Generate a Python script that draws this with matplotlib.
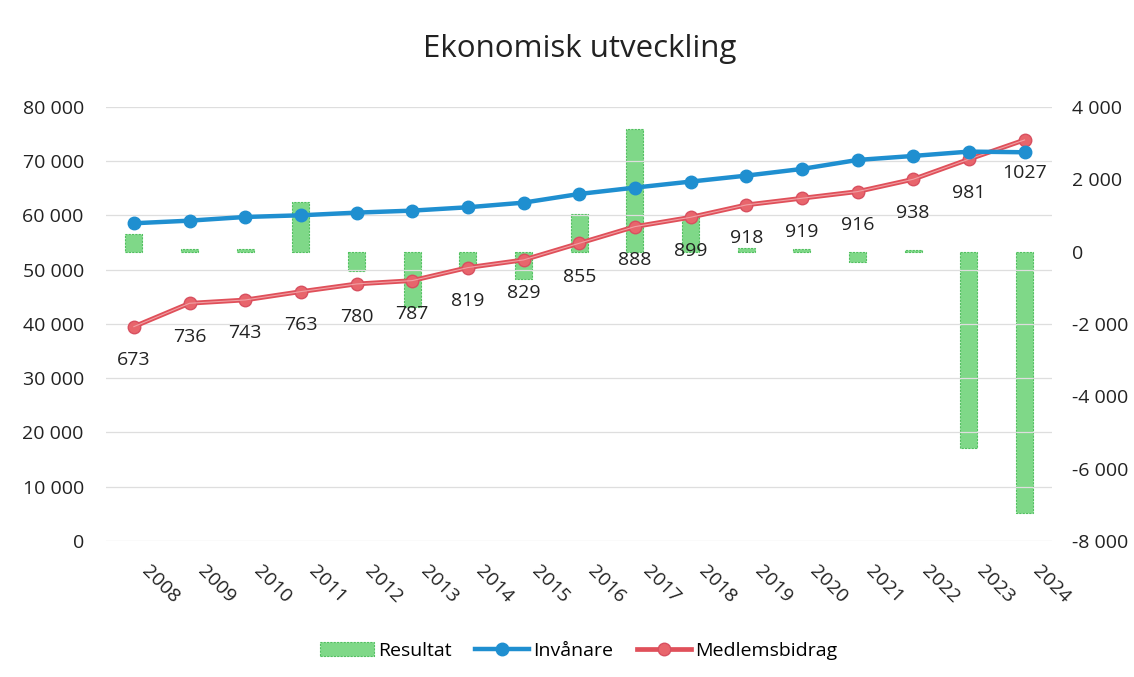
import matplotlib.pyplot as plt
from matplotlib.lines import Line2D
from matplotlib.patches import Patch
from matplotlib.ticker import FuncFormatter

plt.rcParams['font.family'] = ['Open Sans', 'DejaVu Sans']

# ---- data ----
years = [str(y) for y in range(2008, 2025)]
invanare = [58560, 59040, 59720, 60030, 60520, 60890, 61510, 62360, 63960,
            65130, 66240, 67340, 68570, 70230, 70970, 71770, 71650]
# Medlemsbidrag total (tkr) on the left axis, labelled with kr per invånare
medlemsbidrag = [39500, 43810, 44420, 45960, 47370, 47990, 50390, 51800, 54870,
                 57940, 59660, 61940, 63170, 64400, 66670, 70360, 73920]
bidrag_per_inv = [673, 736, 743, 763, 780, 787, 819, 829, 855,
                  888, 899, 918, 919, 916, 938, 981, 1027]
resultat = [500, 60, 60, 1380, -525, -1520, -450, -765, 1030,
            3390, 950, 100, 70, -290, 40, -5440, -7230]

x = list(range(len(years)))

fig = plt.figure(figsize=(11.34, 6.77), dpi=100)
ax = fig.add_axes([0.0935, 0.201, 0.8345, 0.641])
ax2 = ax.twinx()
ax.set_zorder(2)
ax2.set_zorder(1)
ax.patch.set_visible(False)

green = '#7fd888'
blue = '#1f8fd0'
red = '#e8656c'

# bars (right axis)
ax2.bar(x, resultat, width=0.31, color=green, edgecolor='#52c060',
        linestyle=(0, (2, 1)), linewidth=0.8)
ax2.set_ylim(-8000, 4000)
ax2.set_yticks(range(-8000, 4001, 2000))

# lines (left axis)
ax.plot(x, invanare, color=blue, lw=3.2, marker='o', ms=9, zorder=4)
ax.plot(x, medlemsbidrag, color='#e0505a', lw=3.4, marker='o', ms=9,
        markerfacecolor=red, markeredgecolor='#d85060', zorder=3)
ax.plot(x, medlemsbidrag, color='#f0a0a4', lw=0.8, zorder=3)

for xi, yi, lab in zip(x, medlemsbidrag, bidrag_per_inv):
    ax.annotate(str(lab), (xi, yi), xytext=(0, -24), textcoords='offset points',
                ha='center', va='center', fontsize=14, color='#222222')

ax.set_ylim(0, 80000)
ax.set_yticks(range(0, 80001, 10000))
ax.set_xlim(-0.5, len(years) - 0.5)
ax.grid(axis='y', color='#dedede', lw=0.9)

fmt = FuncFormatter(lambda v, p: f'{int(v):,}'.replace(',', ' '))
ax.yaxis.set_major_formatter(fmt)
ax2.yaxis.set_major_formatter(fmt)

# year labels, rotated and starting just right of each category centre
ax.set_xticks(x)
ax.set_xticklabels([])
for xi, yr in zip(x, years):
    ax.annotate(yr, (xi, 0), xycoords=('data', 'axes fraction'),
                xytext=(8, -20), textcoords='offset points', rotation=-45,
                rotation_mode='anchor', ha='left', va='center', fontsize=14,
                color='#222222')

for a in (ax, ax2):
    for s in a.spines.values():
        s.set_visible(False)
    a.tick_params(length=0, labelsize=14, labelcolor='#222222')
ax.tick_params(axis='y', pad=16)
ax2.tick_params(axis='y', pad=14)

fig.suptitle('Ekonomisk utveckling', fontsize=22.5, x=0.511, y=0.95, color='#222222')

handles = [Patch(facecolor=green, edgecolor='#52c060', linestyle=(0, (2, 1)), lw=0.8),
           Line2D([], [], color=blue, lw=3.2, marker='o', ms=9),
           Line2D([], [], color='#e0505a', lw=3.4, marker='o', ms=9,
                  markerfacecolor=red, markeredgecolor='#d85060')]
fig.legend(handles, ['Resultat', 'Invånare', 'Medlemsbidrag'], loc='lower center',
           bbox_to_anchor=(0.51, 0.0), ncol=3, frameon=False, fontsize=14,
           handlelength=2.8, handletextpad=0.2, columnspacing=1.2)

fig.savefig('out.png', dpi=100)
